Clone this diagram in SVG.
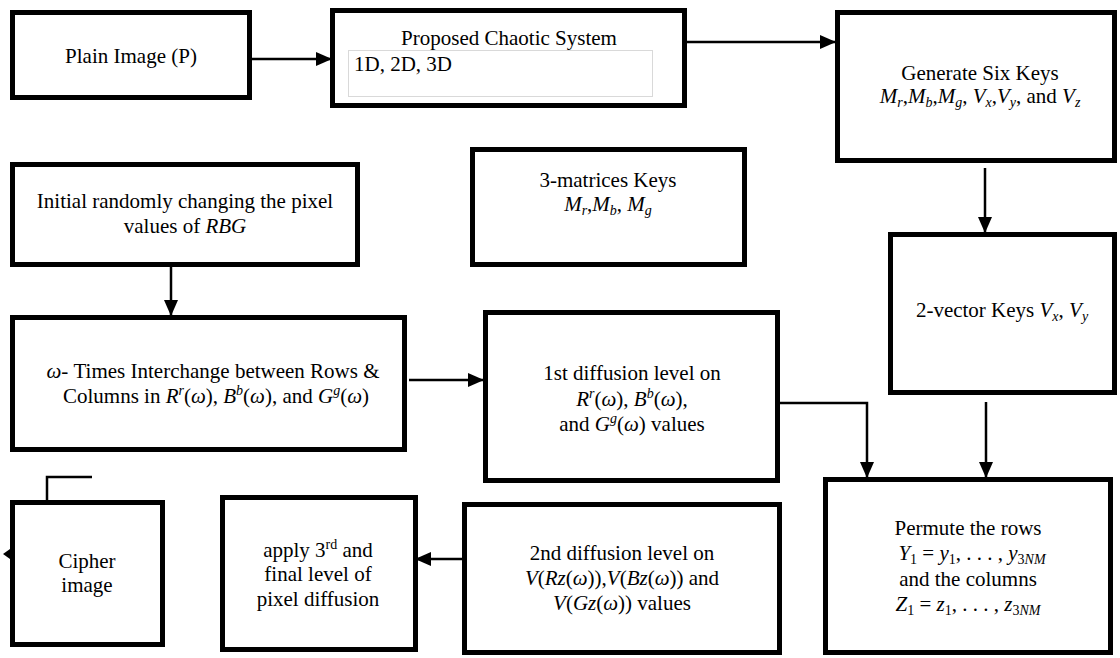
<svg xmlns="http://www.w3.org/2000/svg" width="1120" height="658" viewBox="0 0 1120 658" font-family="'Liberation Serif', 'Times New Roman', serif">
<style>
.box{fill:#fff;stroke:#000;stroke-width:5}
.t{font-family:"Liberation Serif","Times New Roman",serif;font-size:21px;fill:#000;text-anchor:middle}
.l{text-anchor:start}
.i{font-style:italic}
.s{font-size:14px}
.c{fill:none;stroke:#000;stroke-width:2.5}
</style>
<defs>
<marker id="ah" markerUnits="userSpaceOnUse" markerWidth="16" markerHeight="14" refX="15" refY="7" orient="auto">
<path d="M0,0 L16,7 L0,14 Z" fill="#000"/>
</marker>
</defs>
<rect width="1120" height="658" fill="#fff"/>
<g id="connectors">
<line class="c" x1="252" y1="59" x2="331" y2="59" marker-end="url(#ah)"/>
<line class="c" x1="682" y1="42" x2="835" y2="42" marker-end="url(#ah)"/>
<line class="c" x1="985" y1="168" x2="985" y2="232" marker-end="url(#ah)"/>
<line class="c" x1="986" y1="402" x2="986" y2="477" marker-end="url(#ah)"/>
<line class="c" x1="171" y1="267" x2="171" y2="315" marker-end="url(#ah)"/>
<line class="c" x1="409" y1="380" x2="483" y2="380" marker-end="url(#ah)"/>
<path class="c" d="M780,403 H867 V477" marker-end="url(#ah)"/>
<line class="c" x1="462" y1="559" x2="416" y2="559" marker-end="url(#ah)"/>
<path class="c" d="M47,500 V477 H92"/>
<path d="M10,549 L3,554 L10,559 Z" fill="#000"/>
</g>
<g id="plain">
<rect class="box" x="12.5" y="12.5" width="237" height="85"/>
<text class="t" x="131" y="63">Plain Image (P)</text>
</g>
<g id="chaotic">
<rect class="box" x="332.5" y="10.5" width="352" height="95"/>
<rect x="348.5" y="50.5" width="304" height="46" fill="#fff" stroke="#d9d9d9" stroke-width="1"/>
<text class="t" x="509" y="45">Proposed Chaotic System</text>
<text class="t l" x="354" y="71">1D, 2D, 3D</text>
</g>
<g id="generate">
<rect class="box" x="837.5" y="12.5" width="277" height="148"/>
<text class="t" x="980" y="80">Generate Six Keys</text>
<text class="t" x="980" y="103"><tspan class="i">M</tspan><tspan class="i s" dy="4">r</tspan><tspan dy="-4">,</tspan><tspan class="i">M</tspan><tspan class="i s" dy="4">b</tspan><tspan dy="-4">,</tspan><tspan class="i">M</tspan><tspan class="i s" dy="4">g</tspan><tspan dy="-4">,  </tspan><tspan class="i">V</tspan><tspan class="i s" dy="4">x</tspan><tspan dy="-4">,</tspan><tspan class="i">V</tspan><tspan class="i s" dy="4">y</tspan><tspan dy="-4">, and  </tspan><tspan class="i">V</tspan><tspan class="i s" dy="4">z</tspan></text>
</g>
<g id="initial">
<rect class="box" x="12.5" y="164.5" width="345" height="100"/>
<text class="t" x="185" y="208">Initial randomly changing the pixel</text>
<text class="t" x="185" y="233">values of <tspan class="i">RBG</tspan></text>
</g>
<g id="matrices">
<rect class="box" x="472.5" y="149.5" width="272" height="115"/>
<text class="t" x="608" y="187">3-matrices Keys</text>
<text class="t" x="608" y="211"><tspan class="i">M</tspan><tspan class="i s" dy="4">r</tspan><tspan dy="-4">,</tspan><tspan class="i">M</tspan><tspan class="i s" dy="4">b</tspan><tspan dy="-4">, </tspan><tspan class="i">M</tspan><tspan class="i s" dy="4">g</tspan></text>
</g>
<g id="vector">
<rect class="box" x="890.5" y="234.5" width="224" height="158"/>
<text class="t" x="1002" y="317">2-vector Keys <tspan class="i">V</tspan><tspan class="i s" dy="4">x</tspan><tspan dy="-4">,  </tspan><tspan class="i">V</tspan><tspan class="i s" dy="4">y</tspan></text>
</g>
<g id="interchange">
<rect class="box" x="12.5" y="317.5" width="392" height="132"/>
<text class="t" x="213" y="378"><tspan class="i">ω</tspan>- Times Interchange between Rows &amp;</text>
<text class="t" x="216" y="403">Columns in <tspan class="i">R</tspan><tspan class="i s" dy="-8">r</tspan><tspan dy="8">(</tspan><tspan class="i">ω</tspan>),  <tspan class="i">B</tspan><tspan class="i s" dy="-8">b</tspan><tspan dy="8">(</tspan><tspan class="i">ω</tspan>), and <tspan class="i">G</tspan><tspan class="i s" dy="-8">g</tspan><tspan dy="8">(</tspan><tspan class="i">ω</tspan>)</text>
</g>
<g id="diff1">
<rect class="box" x="485.5" y="312.5" width="292" height="168"/>
<text class="t" x="632" y="380">1st diffusion level on</text>
<text class="t" x="632" y="406"><tspan class="i">R</tspan><tspan class="i s" dy="-8">r</tspan><tspan dy="8">(</tspan><tspan class="i">ω</tspan>),  <tspan class="i">B</tspan><tspan class="i s" dy="-8">b</tspan><tspan dy="8">(</tspan><tspan class="i">ω</tspan>),</text>
<text class="t" x="632" y="431">and <tspan class="i">G</tspan><tspan class="i s" dy="-8">g</tspan><tspan dy="8">(</tspan><tspan class="i">ω</tspan>) values</text>
</g>
<g id="permute">
<rect class="box" x="825.5" y="479.5" width="285" height="173"/>
<text class="t" x="968" y="535">Permute the rows</text>
<text class="t" x="972" y="560"><tspan class="i">Y</tspan><tspan class="s" dy="4">1</tspan><tspan dy="-4"> = </tspan><tspan class="i">y</tspan><tspan class="s" dy="4">1</tspan><tspan dy="-4">, . . . , </tspan><tspan class="i">y</tspan><tspan class="s" dy="4">3</tspan><tspan class="i s">NM</tspan></text>
<text class="t" x="968" y="586">and the columns</text>
<text class="t" x="968" y="611"><tspan class="i">Z</tspan><tspan class="s" dy="4">1</tspan><tspan dy="-4"> = </tspan><tspan class="i">z</tspan><tspan class="s" dy="4">1</tspan><tspan dy="-4">, . . . , </tspan><tspan class="i">z</tspan><tspan class="s" dy="4">3</tspan><tspan class="i s">NM</tspan></text>
</g>
<g id="diff2">
<rect class="box" x="464.5" y="504.5" width="315" height="148"/>
<text class="t" x="622" y="560">2nd diffusion level on</text>
<text class="t" x="622" y="585"><tspan class="i">V</tspan>(<tspan class="i">Rz</tspan>(<tspan class="i">ω</tspan>)),<tspan class="i">V</tspan>(<tspan class="i">Bz</tspan>(<tspan class="i">ω</tspan>)) and</text>
<text class="t" x="622" y="610"><tspan class="i">V</tspan>(<tspan class="i">Gz</tspan>(<tspan class="i">ω</tspan>)) values</text>
</g>
<g id="apply">
<rect class="box" x="222.5" y="497.5" width="193" height="152"/>
<text class="t" x="318" y="557">apply 3<tspan class="s" dy="-8">rd</tspan><tspan dy="8"> and</tspan></text>
<text class="t" x="318" y="581">final level of</text>
<text class="t" x="318" y="606">pixel diffusion</text>
</g>
<g id="cipher">
<rect class="box" x="12.5" y="502.5" width="150" height="142"/>
<text class="t" x="87" y="568">Cipher</text>
<text class="t" x="87" y="592">image</text>
</g>
</svg>
